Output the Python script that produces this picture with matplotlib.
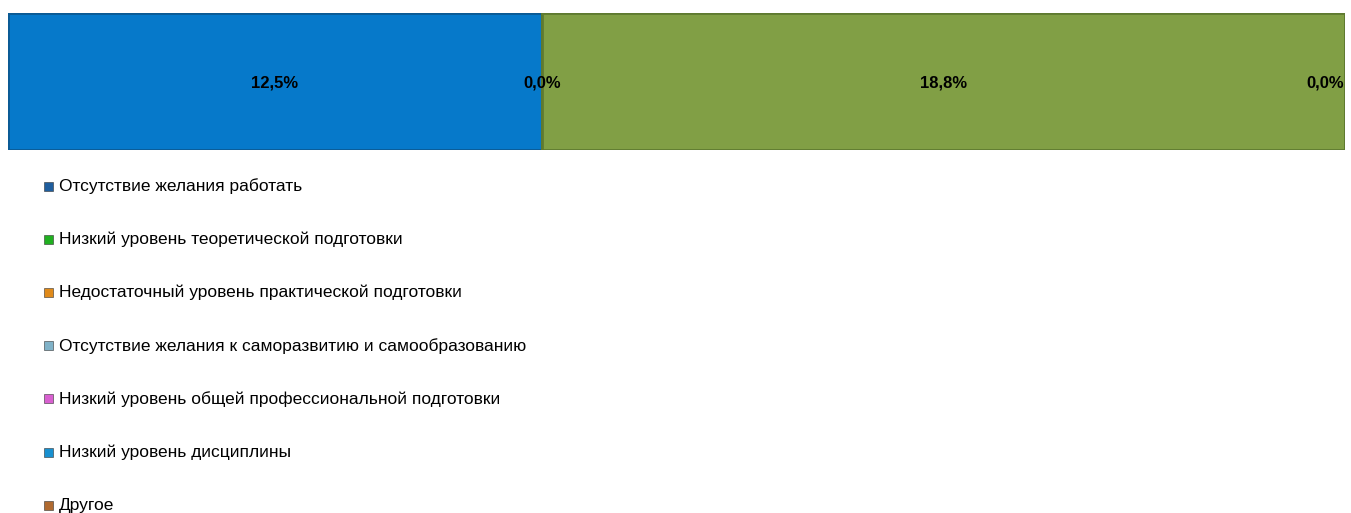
import matplotlib.pyplot as plt
from matplotlib.patches import Rectangle

# data
categories = [
    "Отсутствие желания работать",
    "Низкий уровень теоретической подготовки",
    "Недостаточный уровень практической подготовки",
    "Отсутствие желания к саморазвитию и самообразованию",
    "Низкий уровень общей профессиональной подготовки",
    "Низкий уровень дисциплины",
    "Другое",
]
values = [12.5, 0.0, 18.8, 0.0]
value_labels = ["12,5%", "0,0%", "18,8%", "0,0%"]
bar_colors = ["#0679CA", "#5E8A2E", "#819F45", "#819F45"]
edge_colors = ["#0B5A94", "#4E6B2A", "#5F7A30", "#5F7A30"]
legend_colors = ["#1F5E9E", "#20B020", "#E08A1A", "#80B2C8",
                 "#D860D0", "#1890D0", "#B06A30"]

plt.rcParams['font.family'] = ['Liberation Sans', 'DejaVu Sans']

fig = plt.figure(figsize=(13.51, 5.13), dpi=100)
ax = fig.add_axes([8 / 1351, 1 - 150 / 513, 1337 / 1351, 137 / 513])

left = 0.0
total = sum(values)
for i, v in enumerate(values):
    ax.barh(0, v, left=left, height=1.0, color=bar_colors[i],
            edgecolor=edge_colors[i], linewidth=2)
    xc = left + v / 2
    ha = "center"
    if i == len(values) - 1:
        xc, ha = total - 0.02, "right"
    ax.text(xc, -0.01, value_labels[i], ha=ha, va="center",
            fontsize=12, fontweight="bold", color="black")
    left += v

ax.set_xlim(0, total)
ax.set_ylim(-0.5, 0.5)
ax.axis("off")

# legend drawn as a vertical list
for i, (name, col) in enumerate(zip(categories, legend_colors)):
    yc = 1 - (186 + i * 53.2) / 513
    fig.patches.append(Rectangle((44 / 1351, yc - 4.5 / 513), 9 / 1351, 9 / 513,
                                 transform=fig.transFigure, facecolor=col,
                                 edgecolor="#333333", linewidth=0.4))
    fig.text(59 / 1351, yc, name, ha="left", va="center", fontsize=12.5,
             color="black")

fig.savefig("out.png", dpi=100)
